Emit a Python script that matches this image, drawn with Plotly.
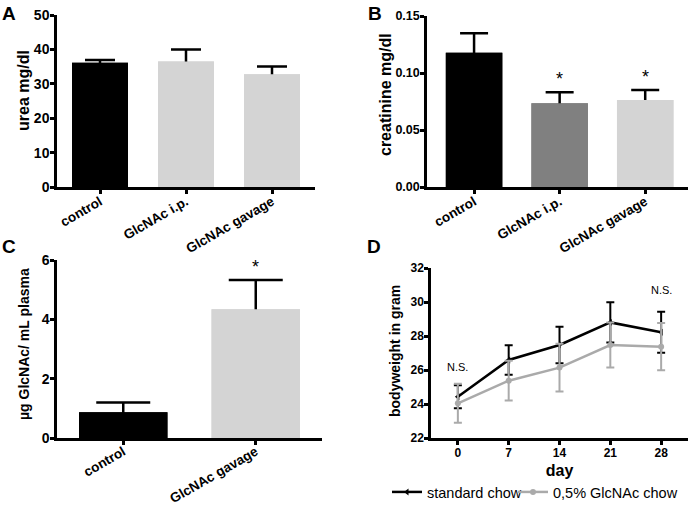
import plotly.graph_objects as go

# panel A / B groups
groups_ab = ["control", "GlcNAc i.p.", "GlcNAc gavage"]
urea = [36.1, 36.5, 32.8]
urea_err = [0.8, 3.5, 2.2]
creatinine = [0.1178, 0.0734, 0.0763]
creatinine_err = [0.017, 0.0097, 0.0088]
creatinine_stars = ["", "*", "*"]

# panel C
groups_c = ["control", "GlcNAc gavage"]
glcnac_plasma = [0.87, 4.34]
glcnac_plasma_err = [0.33, 0.99]
plasma_stars = ["", "*"]

# panel D
days = [0, 7, 14, 21, 28]
standard_chow = [24.43, 26.59, 27.47, 28.80, 28.22]
standard_sd = [0.68, 0.87, 1.08, 1.18, 1.20]
glcnac_chow = [24.04, 25.37, 26.14, 27.47, 27.37]
glcnac_sd = [1.15, 1.17, 1.41, 1.32, 1.39]

W, H = 688, 506
FONT = "Liberation Sans, Arial, sans-serif"
LIGHT = "#d4d4d4"
MID = "#808080"


def px_x(a, b):
    return [a / W, b / W]


def px_y(bottom, top):
    return [1 - bottom / H, 1 - top / H]


fig = go.Figure()


def add_bars(cats, vals, errs, colors, width, cap, xa, ya):
    # first pass carries the one-sided error bar (stem runs down into the bar),
    # second pass repaints the bar on top so only the upper part shows
    fig.add_trace(go.Bar(x=cats, y=vals, width=width,
                         marker=dict(color=colors, line_width=0),
                         error_y=dict(type="data", symmetric=False, array=errs, arrayminus=vals,
                                      color="black", thickness=2.5, width=cap),
                         xaxis=xa, yaxis=ya, showlegend=False, hoverinfo="skip"))
    fig.add_trace(go.Bar(x=cats, y=vals, width=width,
                         marker=dict(color=colors, line_width=0),
                         xaxis=xa, yaxis=ya, showlegend=False))


add_bars(groups_ab, urea, urea_err, ["black", LIGHT, LIGHT], 0.65, 15, "x", "y")
add_bars(groups_ab, creatinine, creatinine_err, ["black", MID, LIGHT], 0.66, 14, "x2", "y2")
add_bars(groups_c, glcnac_plasma, glcnac_plasma_err, ["black", LIGHT], 0.667, 27, "x3", "y3")

# significance stars
for g, v, e, s in zip(groups_ab, creatinine, creatinine_err, creatinine_stars):
    if s:
        fig.add_annotation(x=g, y=v + e, text=s, xref="x2", yref="y2", showarrow=False,
                           yanchor="bottom", yshift=1, font=dict(size=18, color="black"))
for g, v, e, s in zip(groups_c, glcnac_plasma, glcnac_plasma_err, plasma_stars):
    if s:
        fig.add_annotation(x=g, y=v + e, text=s, xref="x3", yref="y3", showarrow=False,
                           yanchor="bottom", yshift=1, font=dict(size=18, color="black"))

fig.add_trace(go.Scatter(x=days, y=standard_chow, mode="lines+markers", name="standard chow",
                         line=dict(color="black", width=2.5),
                         marker=dict(symbol="triangle-left", size=6, color="black"),
                         error_y=dict(type="data", array=standard_sd, color="black", thickness=2, width=4),
                         xaxis="x4", yaxis="y4", legend="legend"))
fig.add_trace(go.Scatter(x=days, y=glcnac_chow, mode="lines+markers", name="0,5% GlcNAc chow",
                         line=dict(color="#aaaaaa", width=2.5),
                         marker=dict(symbol="circle", size=6, color="#aaaaaa"),
                         error_y=dict(type="data", array=glcnac_sd, color="#aaaaaa", thickness=2, width=4),
                         xaxis="x4", yaxis="y4", legend="legend2"))

fig.add_annotation(x=0, y=standard_chow[0] + 1.75, text="N.S.", xref="x4", yref="y4",
                   showarrow=False, font=dict(size=11, color="black"))
fig.add_annotation(x=28, y=standard_chow[4] + 2.5, text="N.S.", xref="x4", yref="y4",
                   showarrow=False, font=dict(size=11, color="black"))


def axis(tick_size, **kw):
    d = dict(showline=True, linecolor="black", linewidth=2.5, ticks="outside",
             ticklen=4, tickwidth=2.5, tickcolor="black", showgrid=False, zeroline=False,
             automargin=False, tickfont=dict(size=tick_size, color="black", weight="bold"))
    d.update(kw)
    return d


legend_common = dict(orientation="h", y=1 - 492 / H, xanchor="left", yanchor="middle",
                     font=dict(size=14.5, color="black"), itemwidth=30, bgcolor="rgba(0,0,0,0)",
                     borderwidth=0)

fig.update_layout(
    width=W, height=H, margin=dict(l=0, r=0, t=0, b=0, autoexpand=False),
    paper_bgcolor="white", plot_bgcolor="white",
    font=dict(family=FONT, color="black"),
    barmode="overlay",
    xaxis=axis(13.5, domain=px_x(57, 315), anchor="y", range=[-0.5, 2.5], tickangle=-30,
               ticklabelstandoff=-5),
    yaxis=axis(14, domain=px_y(187, 15), anchor="x", range=[0, 50], dtick=10, ticklabelstandoff=-2),
    xaxis2=axis(13.5, domain=px_x(427, 688), anchor="y2", range=[-0.55, 2.5], tickangle=-30,
                ticklabelstandoff=-5),
    yaxis2=axis(12.5, domain=px_y(187, 16), anchor="x2", range=[0, 0.15], dtick=0.05, tickformat=".2f",
                ticklabelstandoff=-2),
    xaxis3=axis(13.5, domain=px_x(57, 322), anchor="y3", range=[-0.5, 1.5], tickangle=-30,
                ticklabelstandoff=-6),
    yaxis3=axis(14, domain=px_y(438, 260), anchor="x3", range=[0, 6], dtick=2, ticklabelstandoff=-2),
    xaxis4=axis(12, domain=px_x(431, 688), anchor="y4", range=[-3.7, 31.7], tickvals=days,
                ticklabelstandoff=-2,
                title=dict(text="day", standoff=6, font=dict(size=16, color="black", weight="bold"))),
    yaxis4=axis(12, domain=px_y(438, 268), anchor="x4", range=[22, 32], dtick=2, ticklabelstandoff=-2),
    legend=dict(x=387 / W, **legend_common),
    legend2=dict(x=513 / W, **legend_common),
)

# y axis titles, placed by pixel position like the source figure
for text, tx, ty, size in [("urea mg/dl", 24, 91, 16), ("creatinine mg/dl", 385, 95, 16),
                           ("µg GlcNAc/ mL plasma", 24, 344, 14), ("bodyweight in gram", 395, 351, 14)]:
    fig.add_annotation(x=tx / W, y=1 - ty / H, xref="paper", yref="paper", text=text,
                       textangle=-90, xanchor="center", yanchor="middle", showarrow=False,
                       font=dict(size=size, color="black", weight="bold"))

# panel letters
for letter, lx, ly in [("A", 8.5, 1), ("B", 374.5, 1), ("C", 8.5, 234), ("D", 373.5, 234)]:
    fig.add_annotation(x=lx / W, y=1 - ly / H, xref="paper", yref="paper", text=letter,
                       xanchor="center", yanchor="top", showarrow=False,
                       font=dict(size=19, color="black", weight="bold"))

# page body has a default 8px margin; drop it so the figure sits at the window corner
fig.write_html("out.html", config={"displayModeBar": False},
               post_script="document.body.style.margin='0';")
